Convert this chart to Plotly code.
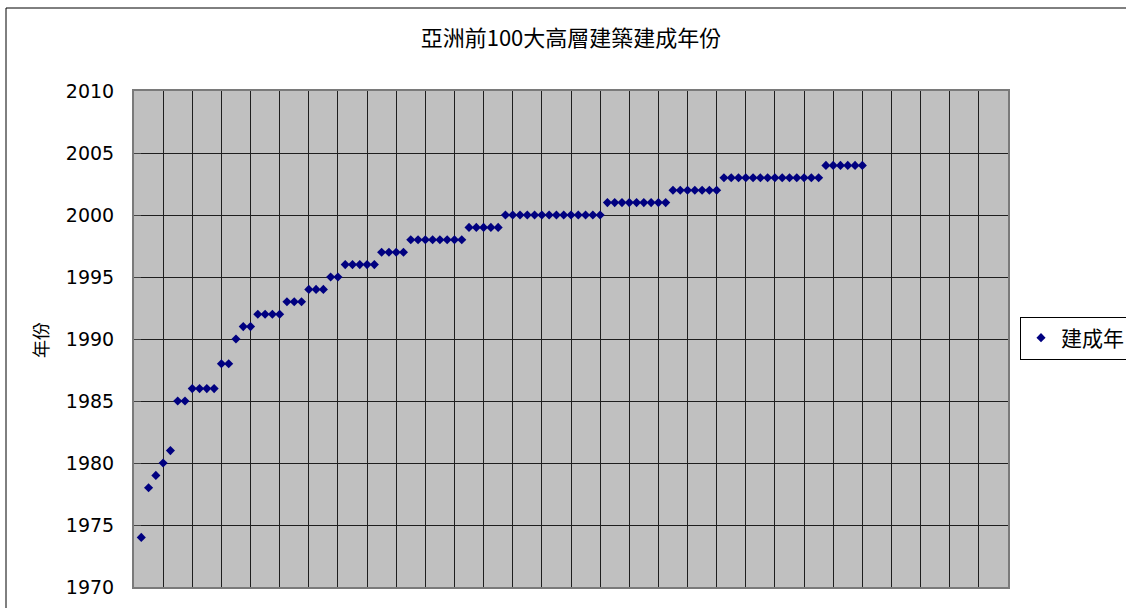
import plotly.graph_objects as go

# Completion year of each of Asia's 100 tallest buildings, in rank order (sorted by year)
years = [
    1974, 1978, 1979, 1980, 1981,
    1985, 1985,
    1986, 1986, 1986, 1986,
    1988, 1988,
    1990,
    1991, 1991,
    1992, 1992, 1992, 1992,
    1993, 1993, 1993,
    1994, 1994, 1994,
    1995, 1995,
    1996, 1996, 1996, 1996, 1996,
    1997, 1997, 1997, 1997,
    1998, 1998, 1998, 1998, 1998, 1998, 1998, 1998,
    1999, 1999, 1999, 1999, 1999,
    2000, 2000, 2000, 2000, 2000, 2000, 2000, 2000, 2000, 2000, 2000, 2000, 2000, 2000,
    2001, 2001, 2001, 2001, 2001, 2001, 2001, 2001, 2001,
    2002, 2002, 2002, 2002, 2002, 2002, 2002,
    2003, 2003, 2003, 2003, 2003, 2003, 2003, 2003, 2003, 2003, 2003, 2003, 2003, 2003,
    2004, 2004, 2004, 2004, 2004, 2004,
]
ranks = list(range(1, len(years) + 1))

series_name = "建成年"
title_text = "亞洲前100大高層建築建成年份"
y_title = "年份"
y_ticks = [1970, 1975, 1980, 1985, 1990, 1995, 2000, 2005, 2010]

W, H = 1126, 608
L, R, T, B = 134, 118, 91, 21
pw, ph = W - L - R, H - T - B

fig = go.Figure()
fig.add_trace(go.Scatter(
    x=ranks, y=years, mode="markers", name=series_name,
    marker=dict(symbol="diamond", size=7, color="#000080"),
    showlegend=True,
))

grid_col = "#1e1e1e"
fig.update_xaxes(
    range=[0, 120], dtick=4, tick0=0,
    showgrid=True, gridcolor=grid_col, gridwidth=1,
    zeroline=False, showticklabels=False, ticks="",
    showline=True, linecolor="#7a7a7a", linewidth=2, mirror=True,
)
fig.update_yaxes(
    range=[1970, 2010], tickvals=y_ticks,
    showgrid=True, gridcolor=grid_col, gridwidth=1,
    zeroline=False, ticks="inside", ticklen=7, tickcolor="#444444",
    ticklabelstandoff=14,
    tickfont=dict(family="DejaVu Sans", size=19, color="#000000"),
    showline=True, linecolor="#7a7a7a", linewidth=2, mirror=True,
)

# outer chart frame
fig.add_shape(type="rect", xref="paper", yref="paper",
              x0=(6 - L) / pw, x1=1.3, y0=-0.2, y1=1 + (T - 8) / ph,
              line=dict(color="#000000", width=1), fillcolor="rgba(0,0,0,0)",
              layer="below")

fig.add_annotation(
    text=y_title, textangle=-90, showarrow=False,
    xref="paper", yref="paper", x=(40 - L) / pw, y=1 - (340 - T) / ph,
    xanchor="center", yanchor="middle",
    font=dict(family="Noto Sans CJK TC", size=18, color="#000000"),
)

fig.update_layout(
    width=W, height=H,
    margin=dict(l=L, r=R, t=T, b=B, autoexpand=False),
    paper_bgcolor="#ffffff", plot_bgcolor="#c0c0c0",
    title=dict(text=title_text, x=571 / W, xref="container", xanchor="center",
               y=1 - 38 / H, yref="container", yanchor="middle",
               font=dict(family="Noto Sans CJK TC", size=22, color="#000000")),
    legend=dict(xref="container", yref="container", x=1020 / W, xanchor="left",
                y=1 - 338 / H, yanchor="middle",
                bordercolor="#000000", borderwidth=1, bgcolor="#ffffff",
                font=dict(family="Noto Sans CJK TC", size=21, color="#000000"),
                itemwidth=30, tracegroupgap=0),
    showlegend=True,
)

fig.write_html("out.html")
